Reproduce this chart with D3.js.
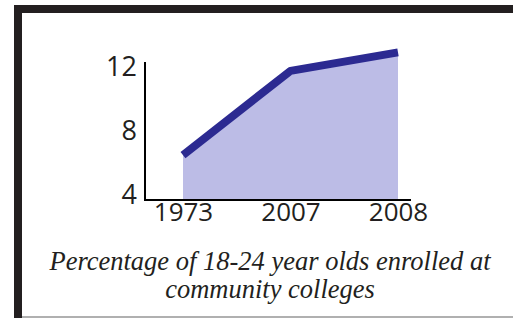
<!DOCTYPE html>
<html>
<head>
<meta charset="utf-8">
<script src="https://cdn.jsdelivr.net/npm/d3@7"></script>
<style>
  body { margin: 0; background: #fff; }
  svg { display: block; }
</style>
</head>
<body>
<svg id="chart" width="513" height="318"></svg>
<script>
// data
let years = ['1973', '2007', '2008'];
let percents = [6.5, 11.75, 12.9];
let yTicks = [4, 8, 12];
let captionLines = ['Percentage of 18-24 year olds enrolled at', 'community colleges'];

let svg = d3.select('#chart');

// frame: dark top and left bars, thin grey bottom line
svg.append('rect').attr('x', 14).attr('y', 5).attr('width', 499).attr('height', 8).attr('fill', '#231f20');
svg.append('rect').attr('x', 14).attr('y', 5).attr('width', 8).attr('height', 313).attr('fill', '#231f20');
svg.append('rect').attr('x', 22).attr('y', 316).attr('width', 491).attr('height', 2).attr('fill', '#b0b0b0');

let axisLeftX = 145;
let axisBottomY = 200;
let axisTopY = 62;
let axisRightX = 411;

let x = d3.scalePoint()
  .domain(years)
  .range([183, 398]);

let y = d3.scaleLinear()
  .domain([3.7, 12.3])
  .range([axisBottomY, axisTopY]);

let data = years.map((yr, i) => ({year: yr, value: percents[i]}));

// shaded area under the line
let area = d3.area()
  .x(d => x(d.year))
  .y0(axisBottomY)
  .y1(d => y(d.value));

svg.append('path')
  .datum(data)
  .attr('d', area)
  .attr('fill', '#bcbce6');

let line = d3.line()
  .x(d => x(d.year))
  .y(d => y(d.value));

svg.append('path')
  .datum(data)
  .attr('d', line)
  .attr('fill', 'none')
  .attr('stroke', '#2c2a91')
  .attr('stroke-width', 8)
  .attr('stroke-linejoin', 'round')
  .attr('stroke-linecap', 'butt');

// axes (lines drawn separately, labels from d3 axes)
let yAxis = d3.axisLeft(y).tickValues(yTicks).tickSize(0).tickPadding(8);
let gy = svg.append('g')
  .attr('transform', `translate(${axisLeftX}, 0)`)
  .call(yAxis);
gy.select('.domain').remove();
gy.selectAll('text')
  .attr('font-family', 'Open Sans')
  .attr('font-size', 27)
  .attr('fill', '#231f20');

let xAxis = d3.axisBottom(x).tickSize(0).tickPadding(3);
let gx = svg.append('g')
  .attr('transform', `translate(0, ${axisBottomY})`)
  .call(xAxis);
gx.select('.domain').remove();
gx.selectAll('text')
  .attr('font-family', 'Open Sans')
  .attr('font-size', 26)
  .attr('fill', '#231f20');

svg.append('line')
  .attr('x1', axisLeftX).attr('x2', axisLeftX)
  .attr('y1', axisTopY).attr('y2', axisBottomY + 1)
  .attr('stroke', '#000').attr('stroke-width', 2);
svg.append('line')
  .attr('x1', axisLeftX - 1).attr('x2', axisRightX)
  .attr('y1', axisBottomY).attr('y2', axisBottomY)
  .attr('stroke', '#000').attr('stroke-width', 2);

// caption
svg.append('g')
  .selectAll('text')
  .data(captionLines)
  .enter()
  .append('text')
    .attr('x', 270)
    .attr('y', (d, i) => 270 + i * 28)
    .attr('text-anchor', 'middle')
    .attr('font-family', 'Liberation Serif')
    .attr('font-style', 'italic')
    .attr('font-size', 26.5)
    .attr('fill', '#231f20')
    .text(d => d);
</script>
</body>
</html>
